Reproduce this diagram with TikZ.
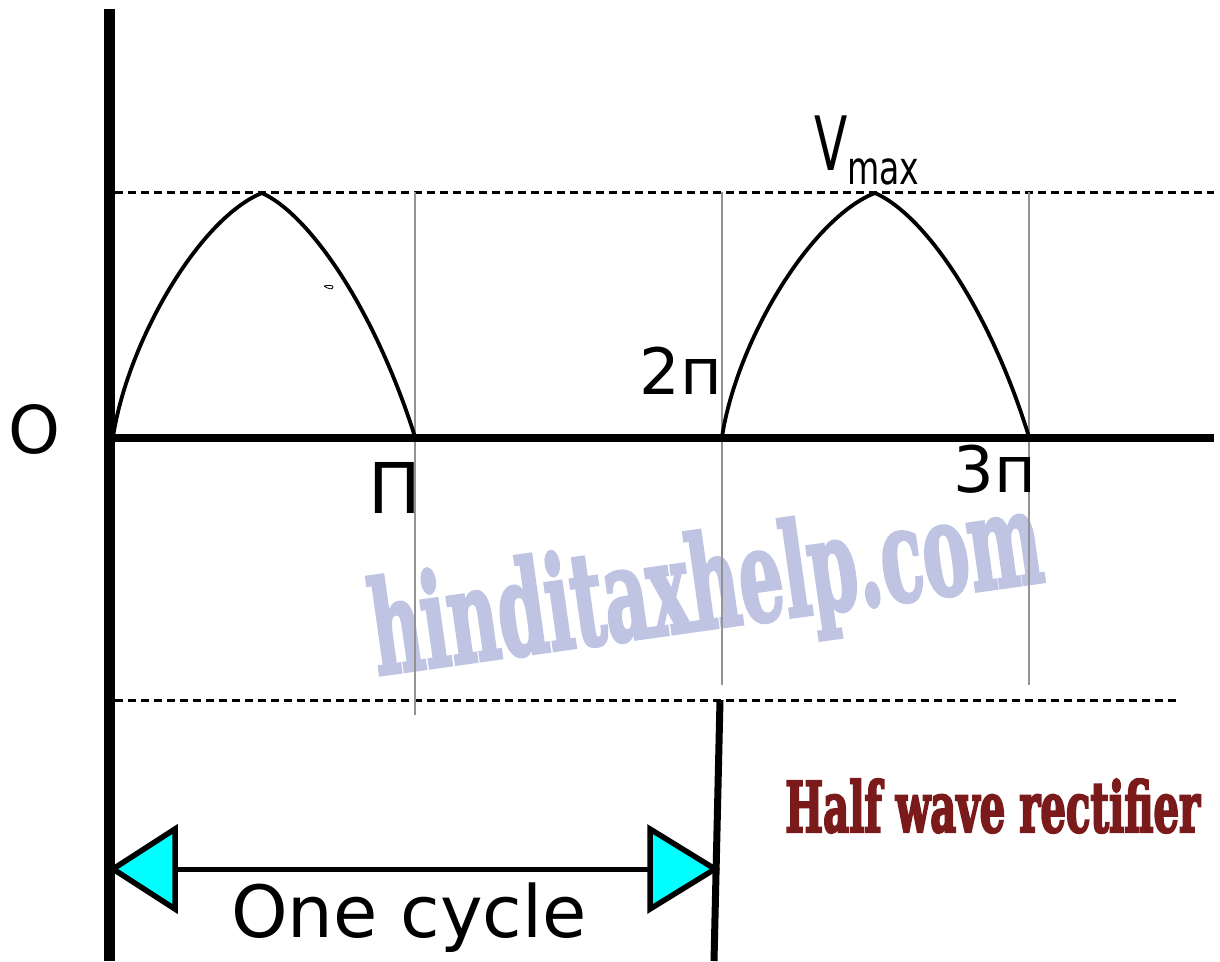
\documentclass[tikz,border=0pt]{standalone}
\usepackage{fontspec}
\usepackage{graphicx}
\setmainfont{DejaVu Sans}
\newfontfamily\condsans{DejaVu Sans Condensed}
\newfontfamily\wmfont{DejaVu Serif Condensed Bold}[FakeBold=3]
\newfontfamily\ttlfont{DejaVu Serif Condensed Bold}[FakeBold=3.5]
\definecolor{wmblue}{HTML}{BFC4E3}
\definecolor{titlered}{HTML}{7A1A1A}
\definecolor{tipcyan}{HTML}{00FFFF}
\tikzset{
  axisline/.style={line width=11pt},
  xaxisline/.style={line width=8pt},
  refdash/.style={line width=3pt, dash pattern=on 8pt off 5pt},
  guide/.style={line width=1.2pt, draw=gray!85},
  wave/.style={line width=3.8pt, line join=miter, miter limit=10},
  tipbox/.style={fill=tipcyan, draw=black, line width=5.5pt, line join=miter},
  lbl/.style={inner sep=0pt, font=\fontsize{66}{70}\selectfont},
}
\begin{document}
\begin{tikzpicture}[x=1pt,y=-1pt]
\useasboundingbox (0,0) rectangle (1220,961);
% watermark
\node[inner sep=0pt, anchor=base, rotate=8, text=wmblue] (wm) at (712,628)
  {\resizebox{675pt}{98pt}{\wmfont hinditaxhelp.com}};
% reference dashed lines
\draw[refdash] (115,192) -- (1214,192);
\draw[refdash] (115,700) -- (1180,700);
% guide verticals
\draw[guide] (415,192) -- (415,715);
\draw[guide] (722,192) -- (722,685);
\draw[guide] (1029,192) -- (1029,685);
% humps
\draw[wave] (113,437) .. controls (128,340) and (200,218) .. (262,193)
            .. controls (310,215) and (375,310) .. (415,437);
\draw[wave] (722,437) .. controls (737,340) and (811,218) .. (875,193)
            .. controls (925,215) and (990,310) .. (1029,437);
% small mark
\draw[line width=0.8pt] (324,286) .. controls (328,289) and (333,290) .. (333,287)
  .. controls (333,285) and (328,285) .. (324,286);
% axes
\draw[xaxisline] (104,438) -- (1214,438);
\draw[axisline] (109,9) -- (109,961);
\draw[line width=7pt] (720,700) -- (714,961);
% one cycle arrow
\coordinate (la) at (113,869);
\coordinate (ra) at (715,869);
\draw[line width=5pt] (175,869) -- (650,869);
\draw[tipbox] (la) -- (175,829) -- (175,909) -- cycle;
\draw[tipbox] (ra) -- (650,829) -- (650,909) -- cycle;
% labels
\node[lbl] (o) at (34,429) {O};
\node[lbl, font=\fontsize{70}{74}\selectfont] (pi) at (395,488) {П};
\node[lbl, font=\fontsize{64}{68}\selectfont] (twopi) at (681,371) {2п};
\node[lbl, font=\fontsize{64}{68}\selectfont] (threepi) at (995,469) {3п};
\node[lbl, anchor=base west, font=\condsans] (vmax) at (814,170)
  {\scalebox{0.72}[1]{\fontsize{75}{78}\selectfont V}\raisebox{-14pt}{\scalebox{0.8}[1]{\fontsize{46}{48}\selectfont max}}};
\node[lbl, font=\fontsize{72}{76}\selectfont] (cyc) at (409,918) {One cycle};
\node[inner sep=0pt, anchor=base west, text=titlered] (title) at (785,832)
  {\resizebox{415pt}{53pt}{\ttlfont Half wave rectifier}};
\end{tikzpicture}
\end{document}
